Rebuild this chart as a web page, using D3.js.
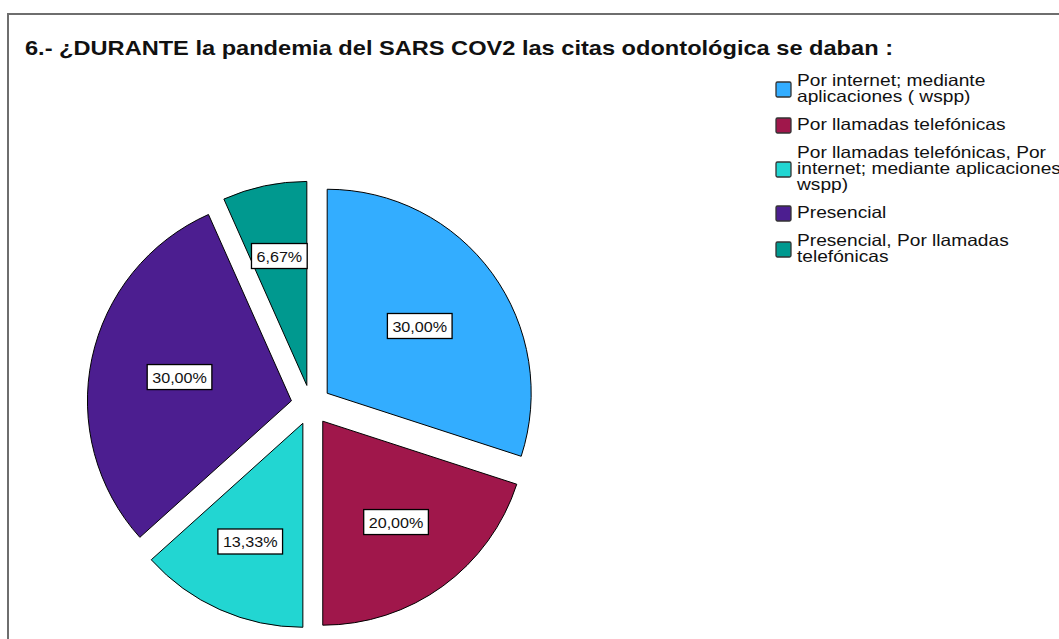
<!DOCTYPE html>
<html>
<head>
<meta charset="utf-8">
<script src="https://cdn.jsdelivr.net/npm/d3@7"></script>
<style>
  body { margin: 0; background: #fff; }
  text { font-family: Arial, "Liberation Sans", sans-serif; }
</style>
</head>
<body>
<script>
// data (counts out of 30 answers)
var categories = [
  'Por internet; mediante aplicaciones ( wspp)',
  'Por llamadas telefónicas',
  'Por llamadas telefónicas, Por internet; mediante aplicaciones wspp)',
  'Presencial',
  'Presencial, Por llamadas telefónicas'
];
var counts = [9, 6, 4, 9, 2];
var colors = ['#33adff', '#a0174b', '#22d6d2', '#4c1e90', '#00998f'];
var title = '6.- ¿DURANTE la pandemia del SARS COV2 las citas odontológica se daban :';

var width = 1059, height = 639;
var cx = 311, cy = 405, radius = 204, explode = 20;
var stretch = 1.16; // the source chart text is a bit wider than plain Arial

var svg = d3.select('body')
    .append('svg')
    .attr('width', width)
    .attr('height', height);

// outer frame
svg.append('rect')
    .attr('x', 8).attr('y', 14)
    .attr('width', 1200).attr('height', 800)
    .attr('fill', 'none')
    .attr('stroke', '#6e6e6e')
    .attr('stroke-width', 2);

var tt = svg.append('text')
    .attr('x', 25).attr('y', 55)
    .attr('font-size', 21)
    .attr('font-weight', 'bold')
    .attr('fill', '#111')
    .text(title);
tt.attr('textLength', 868).attr('lengthAdjust', 'spacingAndGlyphs');

var locale = d3.formatLocale({decimal: ',', thousands: '.', grouping: [3], currency: ['', '']});
var pct = locale.format('.2%');
var total = d3.sum(counts);

var pie = d3.pie().sort(null).value(function (d) { return d; });
var arc = d3.arc().innerRadius(0).outerRadius(radius);
var slices = pie(counts);

var g = svg.append('g').attr('transform', 'translate(' + cx + ',' + cy + ')');

var sliceG = g.selectAll('g.slice')
    .data(slices)
    .enter()
    .append('g')
    .attr('class', 'slice')
    .attr('transform', function (d) {
        var mid = (d.startAngle + d.endAngle) / 2;
        return 'translate(' + (Math.sin(mid) * explode) + ',' + (-Math.cos(mid) * explode) + ')';
    });

sliceG.append('path')
    .attr('d', arc)
    .attr('fill', function (d, i) { return colors[i]; })
    .attr('stroke', '#000')
    .attr('stroke-width', 1);

// labels near the centroid of each sector
sliceG.each(function (d) {
    var sel = d3.select(this);
    var mid = (d.startAngle + d.endAngle) / 2;
    var th = d.endAngle - d.startAngle;
    var dist = 0.98 * 4 * radius * Math.sin(th / 2) / (3 * th);
    var lx = Math.sin(mid) * dist, ly = -Math.cos(mid) * dist;
    var lab = sel.append('g').attr('transform', 'translate(' + lx + ',' + ly + ')');
    var rect = lab.append('rect');
    var t = lab.append('text')
        .attr('text-anchor', 'middle')
        .attr('dy', '0.36em')
        .attr('font-size', 15.5)
        .attr('fill', '#111')
        .text(pct(d.value / total));
    var w = t.node().getComputedTextLength() * 1.04;
    t.attr('textLength', w).attr('lengthAdjust', 'spacingAndGlyphs');
    rect.attr('x', -w / 2 - 5).attr('y', -12.5)
        .attr('width', w + 10).attr('height', 25)
        .attr('fill', '#fff')
        .attr('stroke', '#000')
        .attr('stroke-width', 1.3);
});

// legend
var legend = svg.append('g').attr('transform', 'translate(776,0)');
var fs = 16.5, lineH = 16, gap = 12, maxW = 276;
var probe = legend.append('text').attr('font-size', fs);
function textW(s) {
    probe.text(s);
    return probe.node().getComputedTextLength() * stretch;
}
var y = 86;
categories.forEach(function (c, i) {
    var words = c.split(' '), lines = [], cur = '';
    words.forEach(function (w) {
        var test = cur ? cur + ' ' + w : w;
        if (cur && textW(test) > maxW) {
            lines.push(cur);
            cur = w;
        } else {
            cur = test;
        }
    });
    lines.push(cur);
    lines.forEach(function (l, k) {
        legend.append('text')
            .attr('x', 21)
            .attr('y', y + k * lineH)
            .attr('font-size', fs)
            .attr('fill', '#111')
            .attr('textLength', textW(l))
            .attr('lengthAdjust', 'spacingAndGlyphs')
            .text(l);
    });
    var top = y - 12, bottom = y + (lines.length - 1) * lineH + 3;
    var mid = (top + bottom) / 2;
    legend.append('rect')
        .attr('x', 0).attr('y', mid - 7.5)
        .attr('width', 15).attr('height', 15)
        .attr('rx', 1.5)
        .attr('fill', colors[i])
        .attr('stroke', '#333')
        .attr('stroke-width', 1.3);
    y += lines.length * lineH + gap;
});
probe.remove();
</script>
</body>
</html>
